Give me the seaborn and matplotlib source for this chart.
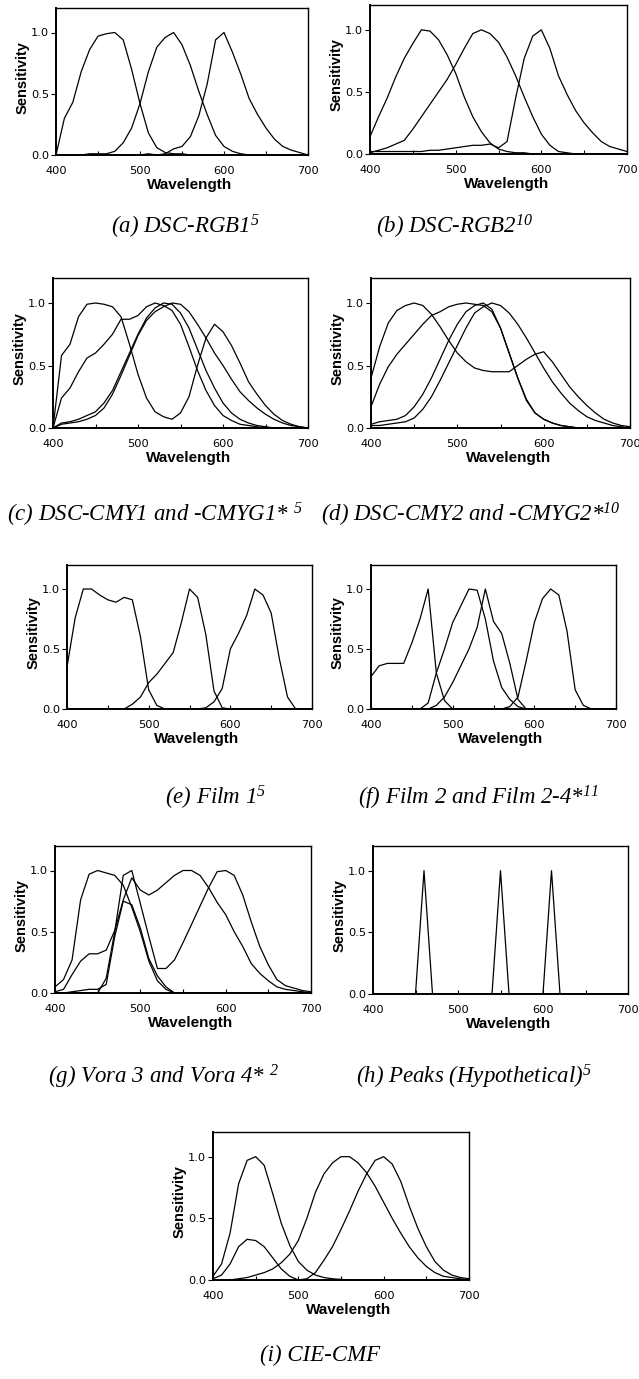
import numpy as np
import pandas as pd
import seaborn as sns
import matplotlib.pyplot as plt
from matplotlib.ticker import MultipleLocator

W, H = 639, 1379

wavelength = [400, 410, 420, 430, 440, 450, 460, 470, 480, 490, 500, 510, 520, 530, 540, 550,
              560, 570, 580, 590, 600, 610, 620, 630, 640, 650, 660, 670, 680, 690, 700]

# (a) DSC-RGB1
rgb1_b = [0.0, 0.3, 0.43, 0.68, 0.86, 0.97, 0.99, 1.0, 0.94, 0.7, 0.42, 0.18, 0.06, 0.02, 0.01, 0.01,
          0, 0, 0, 0, 0, 0, 0, 0, 0, 0, 0, 0, 0, 0, 0]
rgb1_g = [0, 0, 0, 0.0, 0.01, 0.01, 0.01, 0.03, 0.1, 0.22, 0.42, 0.68, 0.88, 0.96, 1.0, 0.9,
          0.73, 0.52, 0.33, 0.16, 0.07, 0.03, 0.01, 0, 0, 0, 0, 0, 0, 0, 0]
rgb1_r = [0, 0, 0, 0, 0, 0, 0, 0, 0, 0, 0, 0.01, 0.0, 0.01, 0.05, 0.07,
          0.15, 0.32, 0.58, 0.94, 1.0, 0.84, 0.66, 0.46, 0.33, 0.22, 0.13, 0.07, 0.04, 0.02, 0.0]

# (b) DSC-RGB2
rgb2_b = [0.14, 0.3, 0.45, 0.62, 0.77, 0.89, 1.0, 0.99, 0.92, 0.8, 0.65, 0.46, 0.3, 0.18, 0.09, 0.04,
          0.02, 0.01, 0.01, 0.0, 0, 0, 0, 0, 0, 0, 0, 0, 0, 0, 0]
rgb2_g = [0.01, 0.03, 0.05, 0.08, 0.11, 0.2, 0.3, 0.4, 0.5, 0.6, 0.72, 0.85, 0.97, 1.0, 0.97, 0.9,
          0.78, 0.63, 0.46, 0.3, 0.16, 0.07, 0.02, 0.01, 0, 0, 0, 0, 0, 0, 0]
rgb2_r = [0.02, 0.02, 0.02, 0.02, 0.02, 0.02, 0.02, 0.03, 0.03, 0.04, 0.05, 0.06, 0.07, 0.07, 0.08, 0.05,
          0.1, 0.45, 0.77, 0.95, 1.0, 0.85, 0.63, 0.48, 0.35, 0.25, 0.17, 0.1, 0.06, 0.04, 0.02]

# (c) DSC-CMY1 and -CMYG1*
cmy1_m = [0.0, 0.58, 0.67, 0.89, 0.99, 1.0, 0.99, 0.97, 0.89, 0.67, 0.43, 0.24, 0.13, 0.09, 0.07, 0.12,
          0.25, 0.5, 0.72, 0.83, 0.77, 0.66, 0.52, 0.37, 0.27, 0.18, 0.11, 0.06, 0.03, 0.01, 0.0]
cmy1_c = [0.0, 0.24, 0.32, 0.45, 0.56, 0.6, 0.67, 0.75, 0.87, 0.87, 0.9, 0.97, 1.0, 0.98, 0.94, 0.83,
          0.65, 0.46, 0.3, 0.18, 0.1, 0.06, 0.03, 0.02, 0.01, 0, 0, 0, 0, 0, 0]
cmy1_y = [0.0, 0.04, 0.05, 0.07, 0.1, 0.13, 0.2, 0.3, 0.45, 0.6, 0.75, 0.88, 0.96, 1.0, 0.99, 0.92,
          0.8, 0.63, 0.46, 0.32, 0.2, 0.12, 0.07, 0.04, 0.02, 0.01, 0, 0, 0, 0, 0]
cmy1_g = [0.0, 0.03, 0.04, 0.05, 0.07, 0.1, 0.16, 0.27, 0.42, 0.58, 0.74, 0.86, 0.93, 0.97, 1.0, 0.99,
          0.93, 0.83, 0.72, 0.6, 0.5, 0.39, 0.29, 0.22, 0.16, 0.11, 0.07, 0.04, 0.02, 0.01, 0.0]

# (d) DSC-CMY2 and -CMYG2*
cmy2_m = [0.4, 0.65, 0.84, 0.94, 0.98, 1.0, 0.98, 0.91, 0.81, 0.7, 0.6, 0.53, 0.48, 0.46, 0.45, 0.45,
          0.45, 0.5, 0.55, 0.59, 0.61, 0.53, 0.43, 0.33, 0.25, 0.18, 0.12, 0.07, 0.04, 0.02, 0.01]
cmy2_c = [0.17, 0.35, 0.49, 0.59, 0.67, 0.75, 0.83, 0.9, 0.93, 0.97, 0.99, 1.0, 0.99, 0.98, 0.93, 0.8,
          0.6, 0.4, 0.22, 0.12, 0.07, 0.04, 0.02, 0.01, 0, 0, 0, 0, 0, 0, 0]
cmy2_y = [0.03, 0.05, 0.06, 0.07, 0.1, 0.17, 0.27, 0.4, 0.55, 0.7, 0.83, 0.93, 0.98, 1.0, 0.95, 0.8,
          0.6, 0.4, 0.23, 0.12, 0.07, 0.04, 0.02, 0.01, 0, 0, 0, 0, 0, 0, 0]
cmy2_g = [0.02, 0.02, 0.03, 0.04, 0.05, 0.08, 0.15, 0.25, 0.38, 0.52, 0.66, 0.8, 0.92, 0.97, 1.0, 0.98,
          0.92, 0.83, 0.72, 0.6, 0.48, 0.37, 0.28, 0.2, 0.14, 0.09, 0.06, 0.04, 0.02, 0.01, 0.0]

# (e) Film 1
film1_b = [0.35, 0.76, 1.0, 1.0, 0.95, 0.91, 0.89, 0.93, 0.91, 0.6, 0.16, 0.03, 0.0, 0, 0, 0,
           0, 0, 0, 0, 0, 0, 0, 0, 0, 0, 0, 0, 0, 0, 0]
film1_g = [0, 0, 0, 0, 0, 0, 0, 0.0, 0.04, 0.1, 0.22, 0.29, 0.38, 0.47, 0.72, 1.0,
           0.93, 0.62, 0.15, 0.01, 0, 0, 0, 0, 0, 0, 0, 0, 0, 0, 0]
film1_r = [0, 0, 0, 0, 0, 0, 0, 0, 0, 0, 0, 0, 0, 0, 0, 0,
           0, 0.01, 0.06, 0.17, 0.5, 0.63, 0.78, 1.0, 0.95, 0.8, 0.42, 0.1, 0.0, 0, 0]

# (f) Film 2 and Film 2-4*
film2_b = [0.27, 0.36, 0.38, 0.38, 0.38, 0.55, 0.75, 1.0, 0.3, 0.07, 0.0, 0, 0, 0, 0, 0,
           0, 0, 0, 0, 0, 0, 0, 0, 0, 0, 0, 0, 0, 0, 0]
film2_g1 = [0, 0, 0, 0, 0, 0, 0.0, 0.05, 0.3, 0.5, 0.72, 0.86, 1.0, 0.99, 0.75, 0.4,
            0.18, 0.08, 0.02, 0.0, 0, 0, 0, 0, 0, 0, 0, 0, 0, 0, 0]
film2_g2 = [0, 0, 0, 0, 0, 0, 0, 0.0, 0.03, 0.1, 0.22, 0.36, 0.5, 0.68, 1.0, 0.73,
            0.63, 0.38, 0.08, 0.0, 0, 0, 0, 0, 0, 0, 0, 0, 0, 0, 0]
film2_r = [0, 0, 0, 0, 0, 0, 0, 0, 0, 0, 0, 0, 0, 0, 0, 0,
           0, 0.02, 0.1, 0.4, 0.72, 0.92, 1.0, 0.95, 0.65, 0.16, 0.03, 0.0, 0, 0, 0]

# (g) Vora 3 and Vora 4*
vora_b = [0.05, 0.11, 0.27, 0.76, 0.97, 1.0, 0.98, 0.96, 0.88, 0.7, 0.5, 0.26, 0.1, 0.03, 0.0, 0,
          0, 0, 0, 0, 0, 0, 0, 0, 0, 0, 0, 0, 0, 0, 0]
vora_g = [0.01, 0.03, 0.15, 0.26, 0.32, 0.32, 0.35, 0.51, 0.76, 0.94, 0.84, 0.8, 0.84, 0.9, 0.96, 1.0,
          1.0, 0.96, 0.86, 0.74, 0.64, 0.5, 0.38, 0.24, 0.16, 0.1, 0.05, 0.03, 0.02, 0.01, 0.0]
vora_r = [0, 0, 0, 0, 0, 0.0, 0.12, 0.5, 0.96, 1.0, 0.73, 0.46, 0.2, 0.2, 0.27, 0.41,
          0.56, 0.71, 0.86, 0.99, 1.0, 0.96, 0.8, 0.58, 0.38, 0.23, 0.11, 0.06, 0.04, 0.02, 0.01]
vora_x = [0, 0, 0.01, 0.02, 0.03, 0.03, 0.07, 0.46, 0.75, 0.72, 0.53, 0.28, 0.14, 0.05, 0.0, 0,
          0, 0, 0, 0, 0, 0, 0, 0, 0, 0, 0, 0, 0, 0, 0]

# (h) Peaks (Hypothetical)
peak_b = [0, 0, 0, 0, 0, 0, 1.0, 0, 0, 0, 0, 0, 0, 0, 0, 0,
          0, 0, 0, 0, 0, 0, 0, 0, 0, 0, 0, 0, 0, 0, 0]
peak_g = [0, 0, 0, 0, 0, 0, 0, 0, 0, 0, 0, 0, 0, 0, 0, 1.0,
          0, 0, 0, 0, 0, 0, 0, 0, 0, 0, 0, 0, 0, 0, 0]
peak_r = [0, 0, 0, 0, 0, 0, 0, 0, 0, 0, 0, 0, 0, 0, 0, 0,
          0, 0, 0, 0, 0, 1.0, 0, 0, 0, 0, 0, 0, 0, 0, 0]

# (i) CIE-CMF
cie_z = [0.03, 0.13, 0.38, 0.78, 0.97, 1.0, 0.93, 0.7, 0.46, 0.28, 0.15, 0.08, 0.04, 0.02, 0.01, 0.005,
         0, 0, 0, 0, 0, 0, 0, 0, 0, 0, 0, 0, 0, 0, 0]
cie_y = [0, 0, 0.0, 0.01, 0.02, 0.04, 0.06, 0.09, 0.14, 0.21, 0.32, 0.5, 0.71, 0.86, 0.95, 1.0,
         1.0, 0.95, 0.87, 0.76, 0.63, 0.5, 0.38, 0.27, 0.18, 0.11, 0.06, 0.03, 0.02, 0.01, 0.0]
cie_x = [0.01, 0.04, 0.13, 0.27, 0.33, 0.32, 0.27, 0.18, 0.09, 0.03, 0.0, 0.01, 0.06, 0.16, 0.27, 0.41,
         0.56, 0.72, 0.86, 0.97, 1.0, 0.94, 0.8, 0.6, 0.42, 0.27, 0.15, 0.08, 0.04, 0.02, 0.01]

# panel boxes in pixels: left, top, right, bottom
panels = [
    ([rgb1_b, rgb1_g, rgb1_r], (56, 8, 308, 155)),
    ([rgb2_b, rgb2_g, rgb2_r], (370, 5, 627, 154)),
    ([cmy1_m, cmy1_c, cmy1_y, cmy1_g], (53, 278, 308, 428)),
    ([cmy2_m, cmy2_c, cmy2_y, cmy2_g], (371, 278, 630, 428)),
    ([film1_b, film1_g, film1_r], (67, 565, 312, 709)),
    ([film2_b, film2_g1, film2_g2, film2_r], (371, 565, 616, 709)),
    ([vora_b, vora_g, vora_r, vora_x], (55, 846, 311, 993)),
    ([peak_b, peak_g, peak_r], (373, 846, 628, 994)),
    ([cie_z, cie_y, cie_x], (213, 1132, 469, 1280)),
]

captions = [
    (r'(a) DSC-RGB1$^{5}$', 185, 227, 'center'),
    (r'(b) DSC-RGB2$^{10}$', 455, 227, 'center'),
    (r'(c) DSC-CMY1 and -CMYG1* $^{5}$', 7, 515, 'left'),
    (r'(d) DSC-CMY2 and -CMYG2*$^{10}$', 321, 515, 'left'),
    (r'(e) Film 1$^{5}$', 216, 798, 'center'),
    (r'(f) Film 2 and Film 2-4*$^{11}$', 478, 798, 'center'),
    (r'(g) Vora 3 and Vora 4* $^{2}$', 163, 1077, 'center'),
    (r'(h) Peaks (Hypothetical)$^{5}$', 474, 1077, 'center'),
    (r'(i) CIE-CMF', 320, 1355, 'center'),
]

sns.set_style('ticks')
plt.rcParams['font.family'] = ['DejaVu Sans']
plt.rcParams['mathtext.fontset'] = 'custom'
plt.rcParams['mathtext.rm'] = 'Liberation Serif:italic'
plt.rcParams['mathtext.it'] = 'Liberation Serif:italic'
for key in ['text.color', 'axes.labelcolor', 'xtick.color', 'ytick.color', 'axes.edgecolor']:
    plt.rcParams[key] = 'black'

fig = plt.figure(figsize=(W / 100, H / 100), dpi=100)

for curves, (l, t, r, b) in panels:
    ax = fig.add_axes([l / W, 1 - b / H, (r - l) / W, (b - t) / H])
    df = pd.DataFrame({
        'Wavelength': wavelength * len(curves),
        'Sensitivity': [v for c in curves for v in c],
        'curve': [i for i, c in enumerate(curves) for _ in c],
    })
    sns.lineplot(data=df, x='Wavelength', y='Sensitivity', units='curve', estimator=None,
                 color='black', linewidth=0.9, ax=ax, legend=False)
    ax.set_xlim(400, 700)
    ax.set_ylim(0, 1.2)
    ax.set_xticks([400, 500, 600, 700])
    ax.xaxis.set_minor_locator(MultipleLocator(50))
    ax.set_yticks([0, 0.5, 1.0])
    ax.set_yticklabels(['0.0', '0.5', '1.0'])
    ax.tick_params(axis='x', which='both', direction='in', length=3, width=0.8,
                   labelsize=8.2, pad=8)
    ax.tick_params(axis='y', direction='out', length=3.5, width=0.8, labelsize=8.2, pad=1.5)
    ax.set_xlabel('Wavelength', fontsize=11, fontweight='bold', labelpad=1.5,
                  family='Liberation Sans')
    ax.set_ylabel('Sensitivity', fontsize=10.5, fontweight='bold', labelpad=1,
                  family='Liberation Sans')
    ax.xaxis.label.set_x(0.53)
    ax.yaxis.label.set_y(0.53)
    for side in ['top', 'right']:
        ax.spines[side].set_linewidth(1.0)
    for side in ['left', 'bottom']:
        ax.spines[side].set_linewidth(1.4)

for text, x, y, ha in captions:
    fig.text(x / W, 1 - y / H, text, ha=ha, va='center', fontsize=16.5,
             family='Liberation Serif', style='italic')

fig.savefig('out.png', dpi=100)
